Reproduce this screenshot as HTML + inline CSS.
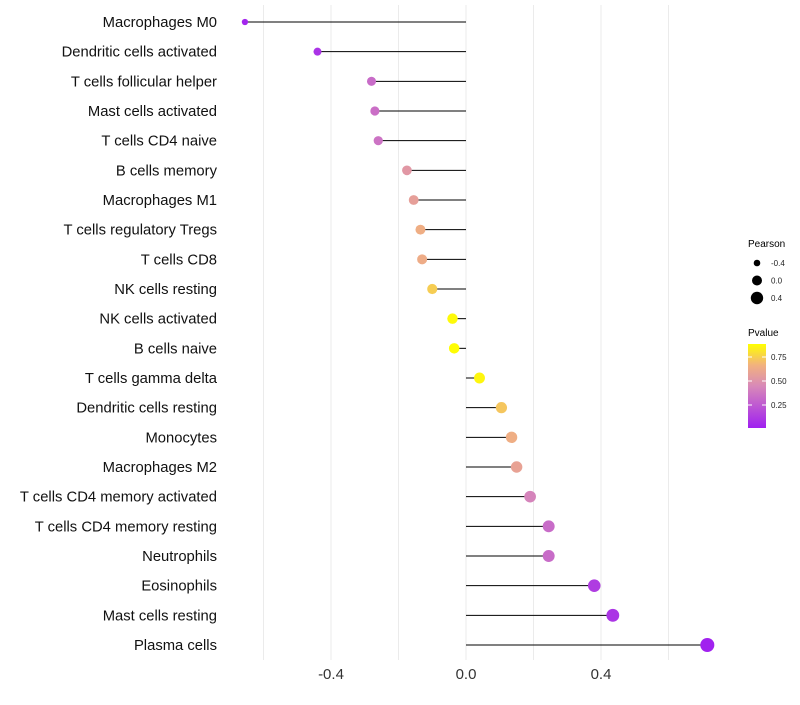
<!DOCTYPE html>
<html><head><meta charset="utf-8"><style>
body{margin:0;background:#fff;font-family:"Liberation Sans",sans-serif}
</style></head><body>
<svg id="chart" width="800" height="700" xmlns="http://www.w3.org/2000/svg">
<defs><linearGradient id="pg" x1="0" y1="1" x2="0" y2="0">
<stop offset="0" stop-color="#A020F0"/><stop offset="0.5" stop-color="#D889B8"/><stop offset="0.75" stop-color="#F2B27E"/><stop offset="1" stop-color="#FFFF00"/></linearGradient></defs>
<g id="grid"></g><g id="marks"></g><g id="labels"></g>
</svg>
<script>
const cells=["Macrophages M0","Dendritic cells activated","T cells follicular helper","Mast cells activated","T cells CD4 naive","B cells memory","Macrophages M1","T cells regulatory  Tregs ","T cells CD8","NK cells resting","NK cells activated","B cells naive","T cells gamma delta","Dendritic cells resting","Monocytes","Macrophages M2","T cells CD4 memory activated","T cells CD4 memory resting","Neutrophils","Eosinophils","Mast cells resting","Plasma cells"];
const pearson=[-0.655,-0.44,-0.28,-0.27,-0.26,-0.175,-0.155,-0.135,-0.13,-0.10,-0.04,-0.035,0.04,0.105,0.135,0.15,0.19,0.245,0.245,0.38,0.435,0.715];
const pvalue=[0.02,0.08,0.32,0.33,0.35,0.52,0.56,0.64,0.63,0.74,0.87,0.88,0.86,0.72,0.64,0.58,0.42,0.32,0.32,0.12,0.09,0.01];
const xTicks=[-0.4,0,0.4];
const xTickLabels=["-0.4","0.0","0.4"];
const NS="http://www.w3.org/2000/svg";
const svg=document.getElementById('chart');
const X=v=>466+v*337.5;
const Y=i=>22+i*(623/21);
const R=v=>Math.sqrt(Math.max(2,28.6+28.6*v));
function lerp(a,b,t){return a+(b-a)*t}
const stops=[[0,[160,32,240]],[0.5,[216,137,184]],[0.75,[242,178,126]],[1,[255,255,0]]];
function col(p){let t=Math.min(1,Math.max(0,p/0.885));for(let k=0;k<stops.length-1;k++){const [a,ca]=stops[k],[b,cb]=stops[k+1];if(t<=b){const u=(t-a)/(b-a);return `rgb(${ca.map((c,j)=>Math.round(lerp(c,cb[j],u))).join(',')})`;}}return 'rgb(255,255,0)';}
function mk(tag,attrs,parent){const e=document.createElementNS(NS,tag);for(const k in attrs)e.setAttribute(k,attrs[k]);parent.appendChild(e);return e;}
const grid=document.getElementById('grid'),marks=document.getElementById('marks'),labels=document.getElementById('labels');
for(let g=-0.6;g<=0.61;g+=0.2){const l=mk('line',{x1:X(g),x2:X(g),y1:5,y2:660,stroke:'#ebebeb','stroke-width':1},grid);

}
xTicks.forEach((t,i)=>{const e=mk('text',{x:X(t),y:679,'text-anchor':'middle','font-size':15,fill:'#333'},labels);e.textContent=xTickLabels[i];

});
cells.forEach((c,i)=>{const y=Y(i);
const l=mk('line',{x1:X(0),x2:X(pearson[i]),y1:y,y2:y,stroke:'#000','stroke-width':1},marks);


const d=mk('circle',{cx:X(pearson[i]),cy:y,r:R(pearson[i]),fill:col(pvalue[i])},marks);


const t=mk('text',{x:217,y:y+5,'text-anchor':'end','font-size':14.8,fill:'#111'},labels);t.textContent=c;

});
// legend
const lg=mk('g',{},svg);


const tt=mk('text',{x:748,y:247,'font-size':10,fill:'#000'},lg);tt.textContent='Pearson';
[-0.4,0,0.4].forEach((v,i)=>{const y=263+i*17.5;mk('circle',{cx:757,cy:y,r:[3.3,5,6.2][i],fill:'#000'},lg);const e=mk('text',{x:771,y:y+3,'font-size':8,fill:'#222'},lg);e.textContent=xTickLabels[i];});
const t2=mk('text',{x:748,y:336,'font-size':10,fill:'#000'},lg);t2.textContent='Pvalue';
mk('rect',{x:748,y:344,width:18,height:84,fill:'url(#pg)'},lg);
[[0.75,'0.75'],[0.5,'0.50'],[0.25,'0.25']].forEach(([p,s])=>{const y=429-p*96;mk('line',{x1:748,x2:752,y1:y,y2:y,stroke:'#fff'},lg);mk('line',{x1:762,x2:766,y1:y,y2:y,stroke:'#fff'},lg);const e=mk('text',{x:771,y:y+3,'font-size':8,fill:'#222'},lg);e.textContent=s;});
</script>
</body></html>
